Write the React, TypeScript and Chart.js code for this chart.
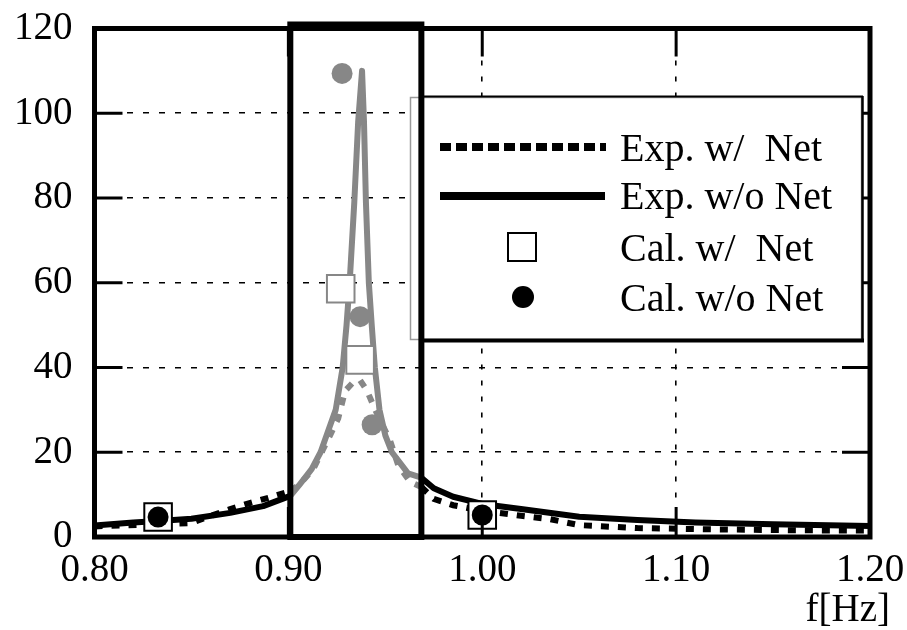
import React, { useEffect, useRef } from 'react';
import { Chart, registerables } from 'chart.js';

Chart.register(...registerables);

const GRAY = '#878787';
const BOX_FROM = 0.901;
const BOX_TO = 0.9686;
const FONT = "'Liberation Serif', 'Times New Roman', serif";

const xTicks = [0.8, 0.9, 1.0, 1.1, 1.2];
const yTicks = [0, 20, 40, 60, 80, 100, 120];

const legendLabels = ['Exp. w/  Net', 'Exp. w/o Net', 'Cal. w/  Net', 'Cal. w/o Net'];

const expWithNetF = [0.80, 0.83, 0.85, 0.86, 0.87, 0.88, 0.89, 0.901, 0.906, 0.9128, 0.9215, 0.9257, 0.9293, 0.9334, 0.937, 0.9406, 0.9448, 0.9525, 0.9566, 0.9628, 0.9686, 0.975, 0.985, 1.00, 1.02, 1.035, 1.05, 1.08, 1.12, 1.16, 1.20];
const expWithNetV = [2.5, 3.0, 3.3, 5.0, 6.6, 8.0, 9.3, 10.8, 12.5, 16, 24, 28, 34.5, 36.5, 37, 34.5, 30, 22.7, 17, 13, 11.8, 9.0, 7.5, 6.2, 5.0, 4.2, 2.8, 2.1, 1.8, 1.6, 1.5];

const expWithoutNetF = [0.80, 0.82, 0.833, 0.85, 0.87, 0.887, 0.901, 0.906, 0.912, 0.9166, 0.9205, 0.9244, 0.928, 0.930, 0.9316, 0.934, 0.936, 0.938, 0.939, 0.940, 0.9415, 0.943, 0.9446, 0.947, 0.950, 0.9534, 0.9617, 0.9686, 0.975, 0.985, 1.00, 1.02, 1.05, 1.08, 1.11, 1.15, 1.20];
const expWithoutNetV = [2.7, 3.4, 3.8, 4.3, 5.7, 7.3, 9.7, 12.5, 16, 20, 25, 30, 40, 50, 60, 79, 98, 110, 98, 79, 60, 50, 40, 30, 24, 20, 15, 14, 11.5, 9.5, 7.8, 6.6, 4.8, 4.0, 3.4, 3.0, 2.6];

const calWithNetF = [0.8328, 0.927, 0.937, 1.0];
const calWithNetV = [4.7, 58.6, 41.8, 5.2];

const calWithoutNetF = [0.8328, 0.9277, 0.937, 0.9432, 1.0];
const calWithoutNetV = [4.7, 109.4, 52, 26.5, 5.2];

const zip = (f: number[], v: number[]) => f.map((x, i) => ({ x, y: v[i] }));
const inBox = (x: number) => x >= BOX_FROM - 1e-9 && x <= BOX_TO + 1e-9;
const ptColor = (ctx: any) => {
  const x = ctx?.raw?.x;
  return typeof x === 'number' && inBox(x) ? GRAY : '#000';
};
const segColor = (ctx: any) =>
  inBox(ctx.p0.parsed.x) && inBox(ctx.p1.parsed.x) ? GRAY : '#000';

const decor = {
  id: 'decor',
  afterDatasetsDraw(chart: any) {
    const { ctx, chartArea: a, scales } = chart;
    const xs = scales.x;
    const ys = scales.y;
    const line = (x1: number, y1: number, x2: number, y2: number) => {
      ctx.beginPath();
      ctx.moveTo(x1, y1);
      ctx.lineTo(x2, y2);
      ctx.stroke();
    };
    ctx.save();
    ctx.setLineDash([]);
    ctx.strokeStyle = '#000';
    ctx.lineWidth = 3;
    for (const v of yTicks.slice(1, -1)) {
      const py = ys.getPixelForValue(v);
      line(a.left, py, a.left + 28, py);
      line(a.right - 28, py, a.right, py);
    }
    for (const v of xTicks.slice(1, -1)) {
      const px = xs.getPixelForValue(v);
      line(px, a.bottom, px, a.bottom - 30);
      line(px, a.top, px, a.top + 28);
    }
    // frame
    ctx.lineWidth = 5;
    ctx.strokeRect(a.left, a.top, a.right - a.left, a.bottom - a.top);

    // legend box
    ctx.fillStyle = '#fff';
    ctx.fillRect(410, 97, 452, 243);
    ctx.strokeStyle = '#9a9a9a';
    ctx.lineWidth = 1.5;
    ctx.strokeRect(410.5, 97.5, 451, 242);
    ctx.strokeStyle = '#000';
    ctx.lineWidth = 2;
    line(420, 96.5, 863, 96.5);
    ctx.lineWidth = 2.5;
    line(862.5, 96, 862.5, 342);
    ctx.lineWidth = 4;
    line(420, 340.5, 864, 340.5);

    // legend samples
    ctx.lineCap = 'butt';
    ctx.setLineDash([11, 5]);
    ctx.lineWidth = 8;
    line(440, 147, 606, 147);
    ctx.setLineDash([]);
    ctx.lineWidth = 8;
    line(440, 196, 605, 196);
    ctx.lineWidth = 2;
    ctx.fillStyle = '#fff';
    ctx.fillRect(508, 233, 28, 28);
    ctx.strokeRect(508, 233, 28, 28);
    ctx.fillStyle = '#000';
    ctx.beginPath();
    ctx.arc(523, 297, 11, 0, Math.PI * 2);
    ctx.fill();

    ctx.font = `40px ${FONT}`;
    ctx.textAlign = 'left';
    ctx.textBaseline = 'alphabetic';
    const baselines = [161, 209, 261, 311];
    legendLabels.forEach((t, i) => ctx.fillText(t, 620, baselines[i]));

    // highlighted frequency band
    const bx1 = xs.getPixelForValue(BOX_FROM);
    const bx2 = xs.getPixelForValue(BOX_TO);
    ctx.lineWidth = 6;
    ctx.strokeRect(bx1, a.top - 4, bx2 - bx1, a.bottom - a.top + 4);

    // axis title
    ctx.font = `39px ${FONT}`;
    ctx.textAlign = 'right';
    ctx.fillText('f[Hz]', 890, 621);
    ctx.restore();
  },
};

export default function App() {
  const ref = useRef<HTMLCanvasElement | null>(null);
  useEffect(() => {
    if (!ref.current) return;
    const chart = new Chart(ref.current, {
      type: 'line',
      data: {
        datasets: [
          {
            label: legendLabels[0],
            data: zip(expWithNetF, expWithNetV),
            borderColor: '#000',
            borderWidth: 6,
            borderDash: [8, 9],
            borderCapStyle: 'butt',
            pointRadius: 0,
            segment: { borderColor: segColor },
            order: 3,
          } as any,
          {
            label: legendLabels[1],
            data: zip(expWithoutNetF, expWithoutNetV),
            borderColor: '#000',
            borderWidth: 6,
            borderJoinStyle: 'round',
            pointRadius: 0,
            segment: { borderColor: segColor },
            order: 2,
          } as any,
          {
            label: legendLabels[2],
            data: zip(calWithNetF, calWithNetV),
            showLine: false,
            pointStyle: 'rect',
            pointRadius: 19.5,
            pointBorderWidth: 2,
            pointBackgroundColor: '#fff',
            pointBorderColor: ptColor,
            order: 1,
          } as any,
          {
            label: legendLabels[3],
            data: zip(calWithoutNetF, calWithoutNetV),
            showLine: false,
            pointStyle: 'circle',
            pointRadius: 10.5,
            pointBorderWidth: 0,
            pointBackgroundColor: ptColor,
            pointBorderColor: ptColor,
            order: 0,
          } as any,
        ],
      },
      options: {
        animation: false,
        responsive: false,
        layout: { padding: { left: 0, right: 37, top: 28.5, bottom: 0 } },
        plugins: { legend: { display: false }, tooltip: { enabled: false } },
        scales: {
          x: {
            type: 'linear',
            min: 0.8,
            max: 1.2,
            afterBuildTicks: (s: any) => {
              s.ticks = xTicks.map((v) => ({ value: v }));
            },
            afterFit: (s: any) => {
              s.height = 630 - 537;
              s.paddingLeft = 0;
              s.paddingRight = 0;
            },
            ticks: {
              color: '#000',
              font: { family: FONT, size: 39 },
              padding: 10,
              maxRotation: 0,
              autoSkip: false,
              callback: (v: any) => Number(v).toFixed(2),
            },
            grid: {
              drawTicks: false,
              color: (c: any) => {
                const v = c.tick?.value;
                return v === 1.0 || v === 1.1 ? '#000' : 'rgba(0,0,0,0)';
              },
              lineWidth: 1.6,
            },
            border: { display: false, dash: [5, 11] },
          },
          y: {
            min: 0,
            max: 120,
            afterBuildTicks: (s: any) => {
              s.ticks = yTicks.map((v) => ({ value: v }));
            },
            afterFit: (s: any) => {
              s.width = 94.5;
              s.paddingTop = 0;
              s.paddingBottom = 0;
            },
            ticks: {
              color: '#000',
              font: { family: FONT, size: 39 },
              padding: 22,
              autoSkip: false,
            },
            grid: {
              drawTicks: false,
              color: (c: any) => {
                const v = c.tick?.value;
                return v === 0 || v === 120 ? 'rgba(0,0,0,0)' : '#000';
              },
              lineWidth: 1.6,
            },
            border: { display: false, dash: [6, 10] },
          },
        },
      },
      plugins: [decor],
    } as any);
    return () => chart.destroy();
  }, []);
  return (
    <div style={{ position: 'fixed', left: 0, top: 0, width: 907, height: 630, background: '#fff' }}>
      <canvas ref={ref} width={907} height={630} style={{ width: 907, height: 630, display: 'block' }} />
    </div>
  );
}
